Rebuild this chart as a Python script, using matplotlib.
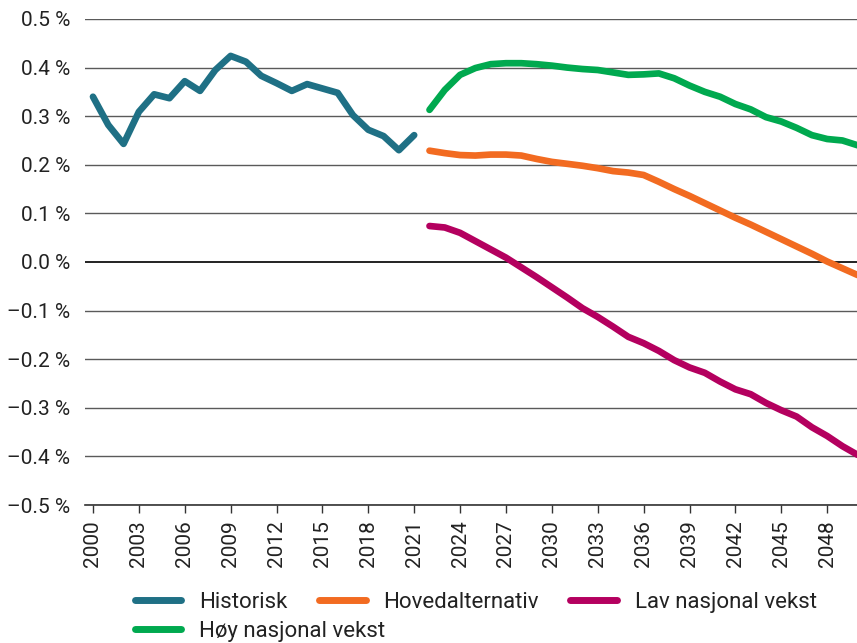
from matplotlib import pyplot as plt
from matplotlib.lines import Line2D

plt.rcParams['font.family'] = ['Roboto', 'DejaVu Sans']

hist_years = list(range(2000, 2022))
historisk = [0.340, 0.282, 0.243, 0.309, 0.345, 0.337, 0.372, 0.352, 0.395, 0.424,
             0.412, 0.383, 0.368, 0.352, 0.366, 0.357, 0.348, 0.302, 0.272, 0.259,
             0.230, 0.261]

proj_years = list(range(2022, 2051))
hoved = [0.229, 0.224, 0.220, 0.219, 0.221, 0.221, 0.219, 0.212, 0.206, 0.202,
         0.198, 0.193, 0.187, 0.184, 0.179, 0.165, 0.150, 0.136, 0.121, 0.106,
         0.091, 0.077, 0.062, 0.047, 0.032, 0.017, 0.001, -0.013, -0.027]
lav = [0.074, 0.071, 0.060, 0.043, 0.026, 0.009, -0.011, -0.031, -0.052, -0.073,
       -0.095, -0.113, -0.133, -0.154, -0.167, -0.183, -0.202, -0.217, -0.228, -0.246,
       -0.262, -0.272, -0.290, -0.305, -0.318, -0.340, -0.358, -0.379, -0.397]
hoy = [0.313, 0.354, 0.385, 0.399, 0.407, 0.409, 0.409, 0.407, 0.404, 0.400,
       0.397, 0.395, 0.390, 0.385, 0.386, 0.388, 0.378, 0.363, 0.350, 0.340,
       0.325, 0.314, 0.298, 0.289, 0.276, 0.261, 0.253, 0.250, 0.240]

y_ticks = [0.5, 0.4, 0.3, 0.2, 0.1, 0.0, -0.1, -0.2, -0.3, -0.4, -0.5]
x_ticks = list(range(2000, 2049, 3))

c_hist = '#1f7085'
c_hoved = '#f26b21'
c_lav = '#b4005f'
c_hoy = '#00a94f'
txt = '#222222'

fig = plt.figure(figsize=(8.57, 6.43), dpi=100)
ax = fig.add_axes([0.0992, 0.2146, 0.9008, 0.7559])

for y in y_ticks:
    col = '#222222' if y == 0 else '#5a5a5a'
    ax.axhline(y, color=col, lw=1.4 if y == 0 else 1.0, zorder=1)

lw = 4.8
for xs, ys, c in [(hist_years, historisk, c_hist), (proj_years, hoved, c_hoved),
                  (proj_years, lav, c_lav), (proj_years, hoy, c_hoy)]:
    ax.plot(xs, ys, color=c, lw=lw, solid_capstyle='round', solid_joinstyle='round', zorder=3)

ax.set_xlim(1999.48, 2049.95)
ax.set_ylim(-0.5, 0.5)
for s in ['top', 'right', 'left']:
    ax.spines[s].set_visible(False)
ax.spines['bottom'].set_color('#333333')
ax.spines['bottom'].set_linewidth(1.2)

ax.set_yticks(y_ticks)
ax.set_yticklabels([('{:.1f} %'.format(v)).replace('-', '\u2013') for v in y_ticks],
                   fontsize=15, color=txt)
ax.tick_params(axis='y', length=0, pad=10.5)
ax.set_xticks(x_ticks)
ax.set_xticklabels([str(x) for x in x_ticks], rotation=90, fontsize=15, color=txt)
ax.tick_params(axis='x', length=6, width=1.0, color='#333333', pad=5)

def handle(c):
    return Line2D([], [], color=c, lw=5, solid_capstyle='round')

opts = dict(loc='upper left', frameon=False, fontsize=16, handlelength=2.1,
            handletextpad=0.8, borderpad=0, borderaxespad=0, labelcolor=txt)
fig.legend([handle(c_hist), handle(c_hoved), handle(c_lav)],
           ['Historisk', 'Hovedalternativ', 'Lav nasjonal vekst'],
           ncol=3, columnspacing=1.42, bbox_to_anchor=(0.157, 0.0793), **opts)
fig.legend([handle(c_hoy)], ['Høy nasjonal vekst'],
           bbox_to_anchor=(0.157, 0.034), **opts)

fig.savefig('out.png', dpi=100)
